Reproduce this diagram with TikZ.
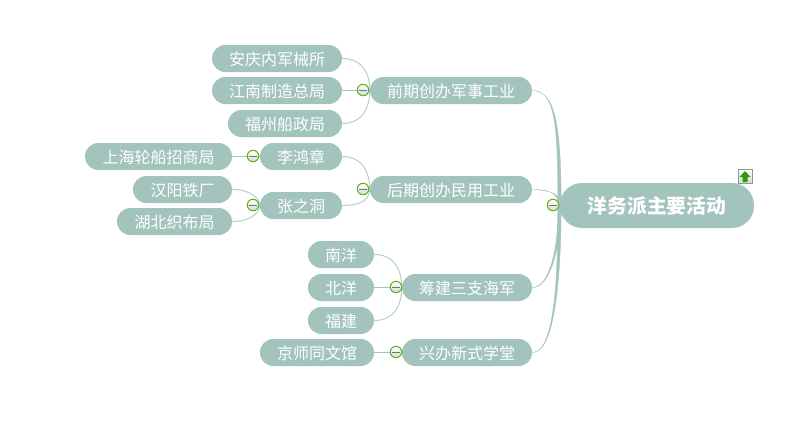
\documentclass[tikz,border=0pt]{standalone}
\usepackage{fontspec}
\setmainfont{Noto Sans CJK SC}
\usetikzlibrary{calc}
\definecolor{nodefill}{HTML}{A2C4BC}
\definecolor{thinline}{HTML}{B4D0C9}
\definecolor{togglegreen}{HTML}{62B01F}
\definecolor{toggledash}{HTML}{5E7F68}
\definecolor{arrowgreen}{HTML}{2F9A0A}
\tikzset{
  topicbox/.style={fill=nodefill,text=white,rounded corners=10pt,inner sep=0pt,minimum height=20.25pt,text height=11.2pt,text depth=1.2pt,font=\fontsize{12}{12}\selectfont,anchor=center},
  rootbox/.style={fill=nodefill,text=white,rounded corners=16.5pt,inner sep=0pt,minimum height=33.75pt,minimum width=145.5pt,font=\fontsize{14.8}{14.8}\selectfont\bfseries},
  link/.style={draw=thinline,line width=0.75pt},
  straightlink/.style={draw=nodefill,line width=0.75pt},
  taper/.style={fill=nodefill,draw=nodefill,line width=0.25pt},
  toggle/.style={circle,draw=togglegreen,line width=0.8pt,top color=white,bottom color=black!15,minimum size=8.6pt,inner sep=0pt,
    path picture={\draw[toggledash,line width=0.7pt] ($(path picture bounding box.west)+(1pt,0)$) -- ($(path picture bounding box.east)+(-1pt,0)$);}},
  upicon/.style={rectangle,draw=nodefill!80!black,line width=0.5pt,top color=white,bottom color=black!15,minimum size=10.5pt,inner sep=0pt}
}
\begin{document}
\begin{tikzpicture}[x=0.75pt,y=-0.75pt]
\useasboundingbox[fill=white] (0,0) rectangle (800,422);
% nodes
\node[topicbox,minimum width=97.5pt] (a1) at (277,58.5) {安庆内军械所};
\node[topicbox,minimum width=97.5pt] (a2) at (277,90.5) {江南制造总局};
\node[topicbox,minimum width=85.5pt] (a3) at (285,123.5) {福州船政局};
\node[topicbox,minimum width=121.5pt] (a) at (451,90.5) {前期创办军事工业};
\node[topicbox,minimum width=61.5pt] (li) at (301,156.5) {李鸿章};
\node[topicbox,minimum width=110.25pt] (lis) at (158.5,156.5) {上海轮船招商局};
\node[topicbox,minimum width=74.25pt] (z1) at (182.5,189.5) {汉阳铁厂};
\node[topicbox,minimum width=86.25pt] (z2) at (174.5,221.5) {湖北织布局};
\node[topicbox,minimum width=61.5pt] (zh) at (301,205.5) {张之洞};
\node[topicbox,minimum width=121.5pt] (b) at (451,189.5) {后期创办民用工业};
\node[topicbox,minimum width=49.5pt] (c1) at (341,254.5) {南洋};
\node[topicbox,minimum width=49.5pt] (c2) at (341,287.5) {北洋};
\node[topicbox,minimum width=49.5pt] (c3) at (341,320.5) {福建};
\node[topicbox,minimum width=97.5pt] (c) at (467,287.5) {筹建三支海军};
\node[topicbox,minimum width=85.5pt] (d1) at (317,352.5) {京师同文馆};
\node[topicbox,minimum width=97.5pt] (d) at (467,352.5) {兴办新式学堂};
\node[rootbox] (root) at (657,205.5) {洋务派主要活动};
% tapered main branches
\fill[taper] (a.east) .. controls +(22,0) and ($(root.west)+(-1.6,-85)$) .. ($(root.west)+(-2,0)$)
  -- ($(root.west)+(1.4,0)$) .. controls ($(root.west)+(1.4,-85)$) and +(22,0.8) .. (a.east);
\fill[taper] (b.east) .. controls +(18,0) and ($(root.west)+(-1,-12)$) .. ($(root.west)+(-1.8,0)$)
  -- ($(root.west)+(1.2,0)$) .. controls ($(root.west)+(1.2,-12)$) and +(18,0.8) .. (b.east);
\fill[taper] (c.east) .. controls +(18,0) and ($(root.west)+(-1,40)$) .. ($(root.west)+(-1.8,0)$)
  -- ($(root.west)+(1.4,0)$) .. controls ($(root.west)+(1.4,40)$) and +(18,0.8) .. (c.east);
\fill[taper] (d.east) .. controls +(22,0) and ($(root.west)+(-1.6,75)$) .. ($(root.west)+(-2,0)$)
  -- ($(root.west)+(1.4,0)$) .. controls ($(root.west)+(1.4,75)$) and +(22,0.8) .. (d.east);
% child links
\draw[link] (a1.east) .. controls +(19,0) and ($(a.west)+(0,-19)$) .. (a.west);
\draw[link] (a3.east) .. controls +(19,0) and ($(a.west)+(0,19)$) .. (a.west);
\draw[straightlink] (a2.east) -- (a.west);
\draw[link] (li.east) .. controls +(19,0) and ($(b.west)+(0,-19)$) .. (b.west);
\draw[link] (zh.east) .. controls +(19,0) and ($(b.west)+(0,10)$) .. (b.west);
\draw[straightlink] (lis.east) -- (li.west);
\draw[link] (z1.east) .. controls +(17,0) and ($(zh.west)+(0,-8)$) .. (zh.west);
\draw[link] (z2.east) .. controls +(17,0) and ($(zh.west)+(0,8)$) .. (zh.west);
\draw[link] (c1.east) .. controls +(19,0) and ($(c.west)+(0,-19)$) .. (c.west);
\draw[link] (c3.east) .. controls +(19,0) and ($(c.west)+(0,19)$) .. (c.west);
\draw[straightlink] (c2.east) -- (c.west);
\draw[straightlink] (d1.east) -- (d.west);
% toggles
\node[toggle] (ta) at (363,90) {};
\node[toggle] (tb) at (363,189) {};
\node[toggle] (tli) at (253,156) {};
\node[toggle] (tzh) at (253,205) {};
\node[toggle] (tc) at (396,287) {};
\node[toggle] (td) at (396,352) {};
\node[toggle] (troot) at (553,205) {};
% icon
\node[upicon] (icon) at (745,176.5) {};
\fill[arrowgreen] ($(icon.center)+(0,-5.5)$) -- ($(icon.center)+(5.5,0.5)$) -- ($(icon.center)+(2.5,0.5)$) -- ($(icon.center)+(2.5,5.5)$) -- ($(icon.center)+(-2.5,5.5)$) -- ($(icon.center)+(-2.5,0.5)$) -- ($(icon.center)+(-5.5,0.5)$) -- cycle;
\end{tikzpicture}
\end{document}
